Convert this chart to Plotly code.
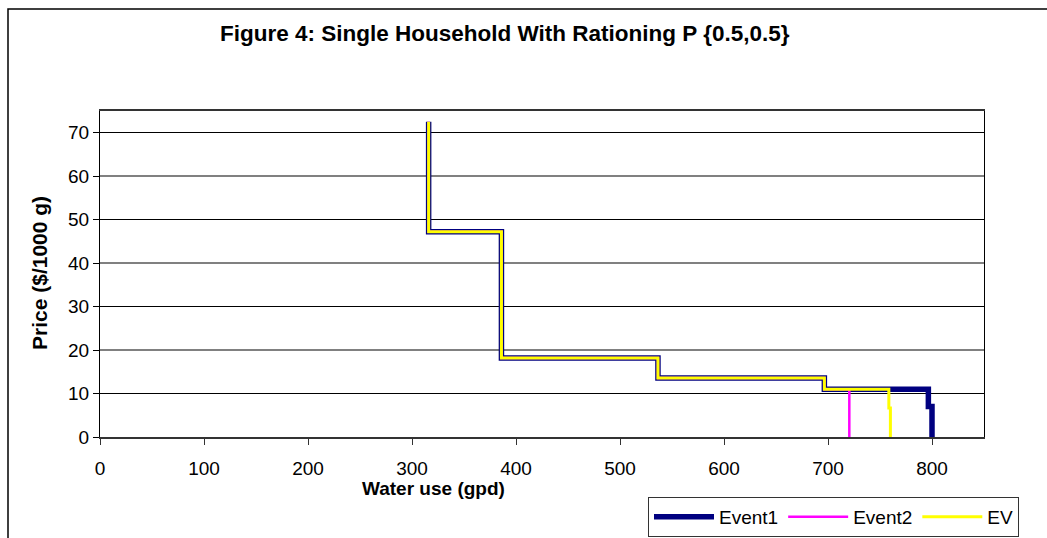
import plotly.graph_objects as go

# ---- data ----
event1_x = [316, 316, 386, 386, 536.5, 536.5, 696.5, 696.5, 796.5, 796.5, 800, 800]
event1_y = [72.5, 47.2, 47.2, 18.2, 18.2, 13.6, 13.6, 11, 11, 7, 7, 0]
event2_x = [316, 316, 386, 386, 536.5, 536.5, 696.5, 696.5, 720.5, 720.5]
event2_y = [72.5, 47.2, 47.2, 18.2, 18.2, 13.6, 13.6, 11, 11, 0]
ev_x = [316, 316, 386, 386, 536.5, 536.5, 696.5, 696.5, 758.5, 758.5, 760, 760]
ev_y = [72.5, 47.2, 47.2, 18.2, 18.2, 13.6, 13.6, 11, 11, 6.7, 6.7, 0]

x_ticks = [0, 100, 200, 300, 400, 500, 600, 700, 800]
y_ticks = [0, 10, 20, 30, 40, 50, 60, 70]
grey_grid = [20, 40, 60]

title = "Figure 4: Single Household With Rationing P {0.5,0.5}"
x_title = "Water use (gpd)"
y_title = "Price ($/1000 g)"

FONT = "Arial, Liberation Sans, sans-serif"

fig = go.Figure()
fig.add_trace(go.Scatter(x=event1_x, y=event1_y, mode="lines", name="Event1",
                         line=dict(color="#000080", width=5.5)))
fig.add_trace(go.Scatter(x=event2_x, y=event2_y, mode="lines", name="Event2",
                         line=dict(color="#FF00FF", width=2.5)))
fig.add_trace(go.Scatter(x=ev_x, y=ev_y, mode="lines", name="EV",
                         line=dict(color="#FFFF00", width=3)))
# empty helper trace so the overlaid grid axis is rendered
fig.add_trace(go.Scatter(x=[None], y=[None], yaxis="y2", showlegend=False,
                         hoverinfo="skip", mode="lines"))

L, R, T, B = 100, 63, 111, 101
W, H = 1047, 538
pw, ph = W - L - R, H - T - B


def px(xp):
    return (xp - L) / pw


def py(yp):
    return (H - B - yp) / ph


fig.update_layout(
    width=W, height=H,
    margin=dict(l=L, r=R, t=T, b=B, autoexpand=False),
    paper_bgcolor="white", plot_bgcolor="white",
    font=dict(family=FONT, size=19, color="black"),
    showlegend=True,
    legend=dict(orientation="h", x=px(648), xanchor="left", y=py(497), yanchor="top",
                bordercolor="#333333", borderwidth=1, bgcolor="white",
                font=dict(size=19), itemwidth=60, tracegroupgap=0),
    xaxis=dict(range=[0, 850], tickvals=x_ticks, showgrid=False, zeroline=False,
               ticks="outside", ticklen=6, tickcolor="#333333",
               showline=True, linecolor="#333333", linewidth=1.5, mirror=True,
               tickfont=dict(size=19), automargin=False, ticklabelstandoff=7),
    yaxis=dict(range=[0, 75], tickvals=y_ticks, showgrid=True, gridcolor="black",
               gridwidth=1, zeroline=False, ticks="outside", ticklen=6, tickcolor="black",
               showline=True, linecolor="black", linewidth=1.2, mirror=True,
               tickfont=dict(size=19), automargin=False),
    yaxis2=dict(range=[0, 75], overlaying="y", anchor="x", side="left", tickvals=grey_grid,
                showticklabels=False, showgrid=True, gridcolor="#808080", gridwidth=2,
                zeroline=False, showline=False, ticks="", automargin=False),
    annotations=[
        dict(text="<b>" + title + "</b>", x=px(505), y=py(33), xref="paper", yref="paper",
             showarrow=False, font=dict(size=22.5), xanchor="center", yanchor="middle"),
        dict(text="<b>" + x_title + "</b>", x=px(433), y=py(488), xref="paper", yref="paper",
             showarrow=False, font=dict(size=19), xanchor="center", yanchor="middle"),
        dict(text="<b>" + y_title + "</b>", x=px(39), y=py(273), xref="paper", yref="paper",
             showarrow=False, font=dict(size=21), textangle=-90,
             xanchor="center", yanchor="middle"),
    ],
    shapes=[
        dict(type="rect", xref="paper", yref="paper", x0=px(8), x1=px(1200),
             y0=py(700), y1=py(9), line=dict(color="black", width=1.5),
             fillcolor="rgba(0,0,0,0)", layer="above"),
    ],
)

fig.write_html("out.html")
